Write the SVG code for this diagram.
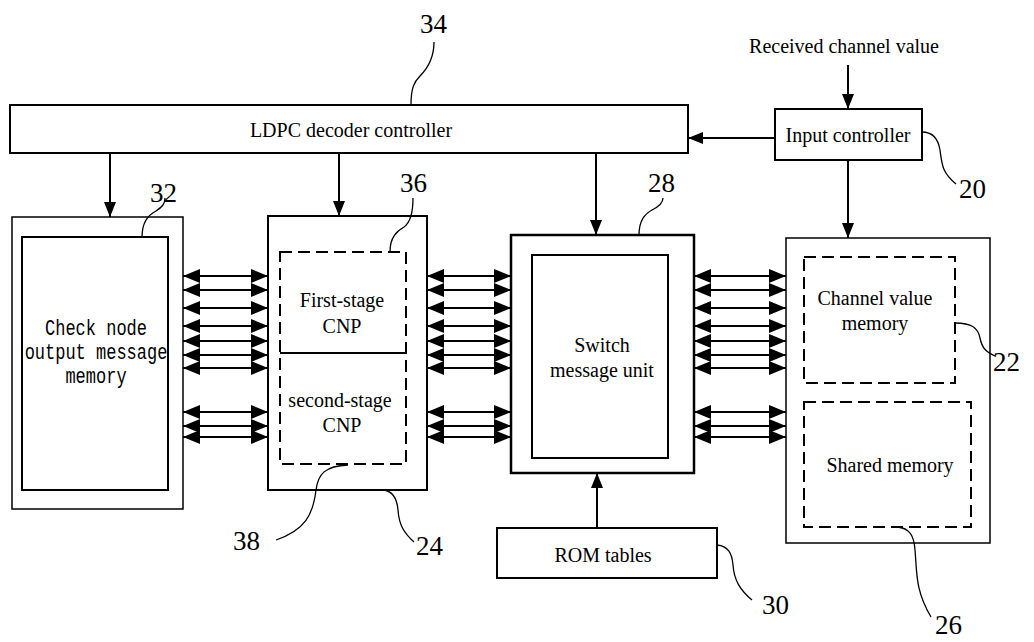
<svg xmlns="http://www.w3.org/2000/svg" width="1034" height="642" viewBox="0 0 1034 642">
<defs>
<style>
.box{fill:none;stroke:#000;stroke-width:2}
.thin{fill:none;stroke:#000;stroke-width:1.5}
.dash{fill:none;stroke:#000;stroke-width:2;stroke-dasharray:12 6}
.ln{fill:none;stroke:#000;stroke-width:2}
.lead{fill:none;stroke:#000;stroke-width:1.3}
.t{font-family:"Liberation Serif","Times New Roman",serif;font-size:20px;fill:#000;text-anchor:middle}
.num{font-family:"Liberation Serif","Times New Roman",serif;font-size:27px;fill:#000}
.mono{font-family:"Liberation Mono","Courier New",monospace;font-size:17px;fill:#000;text-anchor:middle}
</style>
<marker id="a" viewBox="0 0 15 12" refX="15" refY="6" markerWidth="15" markerHeight="12" markerUnits="userSpaceOnUse" orient="auto-start-reverse"><path d="M0,0 L15,6 L0,12 z" fill="#000"/></marker>
<marker id="b" viewBox="0 0 17 14" refX="17" refY="7" markerWidth="17" markerHeight="14" markerUnits="userSpaceOnUse" orient="auto-start-reverse"><path d="M0,0 L17,7 L0,14 z" fill="#000"/></marker>
</defs>
<rect width="1034" height="642" fill="#fff"/>

<g id="ldpc-controller">
<rect class="box" x="10" y="105" width="678" height="48"/>
<text class="t" x="351" y="137">LDPC decoder controller</text>
</g>

<g id="input-controller">
<rect class="box" x="775" y="109" width="147" height="51"/>
<text class="t" x="848" y="142">Input controller</text>
</g>

<text class="t" x="844" y="53">Received channel value</text>

<g id="check-node-memory">
<rect class="thin" x="12" y="217" width="171" height="292"/>
<rect class="box" x="22" y="237" width="146" height="253"/>
<text class="mono" transform="translate(96,335) scale(1,1.3)">Check node</text>
<text class="mono" transform="translate(96,359) scale(1,1.3)">output message</text>
<text class="mono" transform="translate(96,383) scale(1,1.3)">memory</text>
</g>

<g id="cnp-block">
<rect class="box" x="268" y="216" width="159" height="274"/>
<rect class="dash" x="280" y="252" width="126" height="212"/>
<line class="ln" x1="280" y1="353" x2="406" y2="353"/>
<text class="t" x="342" y="307">First-stage</text>
<text class="t" x="342" y="333">CNP</text>
<text class="t" x="340" y="407">second-stage</text>
<text class="t" x="342" y="432">CNP</text>
</g>

<g id="switch-unit">
<rect class="box" x="511" y="235" width="183" height="238" style="stroke-width:2.5"/>
<rect class="box" x="532" y="255" width="136" height="203"/>
<text class="t" x="602" y="352">Switch</text>
<text class="t" x="602" y="377">message unit</text>
</g>

<g id="memory-block">
<rect class="thin" x="786" y="238" width="204" height="305"/>
<rect class="dash" x="804" y="257" width="151" height="126"/>
<text class="t" x="875" y="305">Channel value</text>
<text class="t" x="875" y="330">memory</text>
<rect class="dash" x="804" y="402" width="167" height="125"/>
<text class="t" x="890" y="472">Shared memory</text>
</g>

<g id="rom-tables">
<rect class="box" x="497" y="528" width="220" height="50"/>
<text class="t" x="603" y="562">ROM tables</text>
</g>

<g id="connectors">
<line class="ln" x1="848" y1="65" x2="848" y2="109" marker-end="url(#a)"/>
<line class="ln" x1="775" y1="138" x2="688" y2="138" marker-end="url(#a)"/>
<line class="ln" x1="848" y1="160" x2="848" y2="238" marker-end="url(#a)"/>
<line class="ln" x1="110" y1="153" x2="110" y2="217" marker-end="url(#a)"/>
<line class="ln" x1="339" y1="153" x2="339" y2="216" marker-end="url(#a)"/>
<line class="ln" x1="596" y1="153" x2="596" y2="235" marker-end="url(#a)"/>
<line class="ln" x1="597" y1="528" x2="597" y2="473" marker-end="url(#a)"/>

<g id="bus-32-24">
<line class="ln" x1="183" y1="276" x2="268" y2="276" marker-start="url(#b)" marker-end="url(#b)"/>
<line class="ln" x1="183" y1="290" x2="268" y2="290" marker-start="url(#b)" marker-end="url(#b)"/>
<line class="ln" x1="183" y1="308" x2="268" y2="308" marker-start="url(#b)" marker-end="url(#b)"/>
<line class="ln" x1="183" y1="326" x2="268" y2="326" marker-start="url(#b)" marker-end="url(#b)"/>
<line class="ln" x1="183" y1="341" x2="268" y2="341" marker-start="url(#b)" marker-end="url(#b)"/>
<line class="ln" x1="183" y1="355" x2="268" y2="355" marker-start="url(#b)" marker-end="url(#b)"/>
<line class="ln" x1="183" y1="368" x2="268" y2="368" marker-start="url(#b)" marker-end="url(#b)"/>
<line class="ln" x1="183" y1="412" x2="268" y2="412" marker-start="url(#b)" marker-end="url(#b)"/>
<line class="ln" x1="183" y1="426" x2="268" y2="426" marker-start="url(#b)" marker-end="url(#b)"/>
<line class="ln" x1="183" y1="437" x2="268" y2="437" marker-start="url(#b)" marker-end="url(#b)"/>
</g>
<g id="bus-24-28">
<line class="ln" x1="427" y1="276" x2="511" y2="276" marker-start="url(#b)" marker-end="url(#b)"/>
<line class="ln" x1="427" y1="290" x2="511" y2="290" marker-start="url(#b)" marker-end="url(#b)"/>
<line class="ln" x1="427" y1="308" x2="511" y2="308" marker-start="url(#b)" marker-end="url(#b)"/>
<line class="ln" x1="427" y1="326" x2="511" y2="326" marker-start="url(#b)" marker-end="url(#b)"/>
<line class="ln" x1="427" y1="341" x2="511" y2="341" marker-start="url(#b)" marker-end="url(#b)"/>
<line class="ln" x1="427" y1="355" x2="511" y2="355" marker-start="url(#b)" marker-end="url(#b)"/>
<line class="ln" x1="427" y1="368" x2="511" y2="368" marker-start="url(#b)" marker-end="url(#b)"/>
<line class="ln" x1="427" y1="412" x2="511" y2="412" marker-start="url(#b)" marker-end="url(#b)"/>
<line class="ln" x1="427" y1="426" x2="511" y2="426" marker-start="url(#b)" marker-end="url(#b)"/>
<line class="ln" x1="427" y1="437" x2="511" y2="437" marker-start="url(#b)" marker-end="url(#b)"/>
</g>
<g id="bus-28-26">
<line class="ln" x1="694" y1="276" x2="786" y2="276" marker-start="url(#b)" marker-end="url(#b)"/>
<line class="ln" x1="694" y1="290" x2="786" y2="290" marker-start="url(#b)" marker-end="url(#b)"/>
<line class="ln" x1="694" y1="308" x2="786" y2="308" marker-start="url(#b)" marker-end="url(#b)"/>
<line class="ln" x1="694" y1="326" x2="786" y2="326" marker-start="url(#b)" marker-end="url(#b)"/>
<line class="ln" x1="694" y1="341" x2="786" y2="341" marker-start="url(#b)" marker-end="url(#b)"/>
<line class="ln" x1="694" y1="355" x2="786" y2="355" marker-start="url(#b)" marker-end="url(#b)"/>
<line class="ln" x1="694" y1="368" x2="786" y2="368" marker-start="url(#b)" marker-end="url(#b)"/>
<line class="ln" x1="694" y1="412" x2="786" y2="412" marker-start="url(#b)" marker-end="url(#b)"/>
<line class="ln" x1="694" y1="426" x2="786" y2="426" marker-start="url(#b)" marker-end="url(#b)"/>
<line class="ln" x1="694" y1="437" x2="786" y2="437" marker-start="url(#b)" marker-end="url(#b)"/>
</g>
</g>

<g id="reference-labels">
<path class="lead" d="M411,105 C411,88 414,82 420,76 C428,68 434,58 434,42"/>
<text class="num" x="420" y="33">34</text>
<path class="lead" d="M142,237 C142,222 148,215 156,211 C162,207 165,204 165,198"/>
<text class="num" x="150" y="202">32</text>
<path class="lead" d="M390,252 C390,237 397,231 404,227 C411,222 413,212 413,198"/>
<text class="num" x="400" y="192">36</text>
<path class="lead" d="M639,235 C639,220 645,214 652,210 C660,206 663,202 663,198"/>
<text class="num" x="648" y="192">28</text>
<path class="lead" d="M922,132 C932,132 938,138 940,150 C942,165 942,172 956,184"/>
<text class="num" x="959" y="198">20</text>
<path class="lead" d="M955,323 C972,323 978,328 980,338 C982,348 986,352 995,356"/>
<text class="num" x="993" y="371">22</text>
<path class="lead" d="M348,465 C325,466 318,474 316,490 C313,515 305,530 276,540"/>
<text class="num" x="233" y="550">38</text>
<path class="lead" d="M383,490 C393,491 397,498 398,510 C399,525 404,533 414,542"/>
<text class="num" x="416" y="555">24</text>
<path class="lead" d="M717,545 C728,546 732,553 733,565 C734,580 740,590 752,600"/>
<text class="num" x="762" y="614">30</text>
<path class="lead" d="M897,527 C910,528 914,536 915,550 C917,572 915,590 931,617"/>
<text class="num" x="935" y="634">26</text>
</g>
</svg>
